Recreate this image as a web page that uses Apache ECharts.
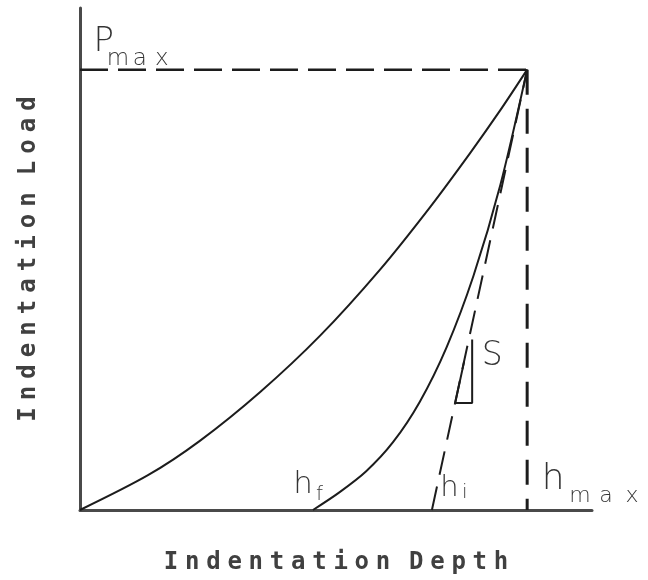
<!DOCTYPE html>
<html>
<head>
<meta charset="utf-8">
<script src="https://cdn.jsdelivr.net/npm/echarts@6/dist/echarts.min.js"></script>
<style>
  html, body { margin: 0; padding: 0; background: #fff; }
  #chart { width: 648px; height: 580px; }
</style>
</head>
<body>
<div id="chart"></div>
<script>
// Load–depth curve of an indentation test, in relative units (Pmax = 100, hmax = 100)
const P_MAX = 100;
const H_MAX = 100;
const H_F = 52.1;   // residual depth after unloading
const H_I = 78.7;   // depth where the unloading tangent meets the axis

// loading branch
const loadDepth = [0, 15.2, 26.8, 40.3, 53.7, 67.1, 78.3, 87.2, 94.0, 100];
const loadForce = [0, 7.9, 15.7, 26.8, 39.6, 54.6, 68.8, 81.0, 90.8, 100];

// unloading branch
const unloadDepth = [H_F, 58, 64, 70, 76, 82, 88, 94, 100];
const unloadForce = [0, 4.0, 8.8, 15.4, 24.6, 37.0, 53.2, 73.8, 100];

// small slope triangle marking the contact stiffness S
const triDepth = [85.9, 83.9, 87.7, 87.7];
const triForce = [33.7, 24.3, 24.3, 38.7];

// symbol labels: main letter and its subscript
const mainText  = ['P', 'h', 'h', 'h', 'S'];
const mainDepth = [5.3, 105.8, 49.9, 82.6, 92.2];
const mainForce = [106.3, 7.0, 5.8, 4.9, 34.9];
const mainSize  = [34, 36, 31, 29, 33];

const subText  = ['max', 'max', 'f', 'i'];
const subDepth = [6.0, 108.9, 52.2, 84.7];
const subForce = [102.4, 3.1, 3.5, 3.8];
const subSize  = [23, 22, 20, 20];
const subStep  = [22, 26, 12, 12];

const xTitle = 'Indentation Depth';
const yTitle = 'Indentation Load';

const zip = (a, b) => a.map((v, i) => [v, b[i]]);
const INK = '#1c1c1c';
const LABEL_INK = '#000';
const LABEL_FONT = 'DejaVu Sans';
const TITLE_FONT = 'DejaVu Sans Mono';

// letters laid out on a fixed pitch
function spaced(text) {
  return text.split('').map(c => c === ' ' ? '{g| }' : '{c|' + c + '}').join('');
}
function titleRich(step, gap) {
  const base = { fontFamily: TITLE_FONT, fontSize: 24, fontWeight: 'bold', color: '#404040', align: 'center' };
  return { c: Object.assign({ width: step }, base), g: Object.assign({ width: gap }, base) };
}

const chart = echarts.init(document.getElementById('chart'), null, { renderer: 'canvas' });

const lineBase = { type: 'line', showSymbol: false, symbol: 'none', silent: true, z: 3 };

chart.setOption({
  animation: false,
  backgroundColor: '#fff',
  grid: { left: 80, right: 56, top: 8, bottom: 65, containLabel: false },
  xAxis: {
    type: 'value', min: 0, max: 114.5,
    axisLine: { show: true, onZero: false, lineStyle: { color: '#4a4a4a', width: 3 } },
    axisTick: { show: false }, axisLabel: { show: false }, splitLine: { show: false },
    name: spaced(xTitle), nameLocation: 'middle', nameGap: 41,
    nameTextStyle: { rich: titleRich(21.2, 12) }
  },
  yAxis: {
    type: 'value', min: 0, max: 114,
    axisLine: { show: true, onZero: false, lineStyle: { color: '#4a4a4a', width: 3 } },
    axisTick: { show: false }, axisLabel: { show: false }, splitLine: { show: false },
    name: spaced(yTitle), nameLocation: 'middle', nameGap: 39, nameRotate: 90,
    nameTextStyle: { rich: titleRich(21.5, 10) }
  },
  series: [
    Object.assign({}, lineBase, {
      name: 'loading', smooth: 0.3,
      data: zip(loadDepth, loadForce),
      lineStyle: { color: INK, width: 2 }
    }),
    Object.assign({}, lineBase, {
      name: 'unloading', smooth: 0.3,
      data: zip(unloadDepth, unloadForce),
      lineStyle: { color: INK, width: 2 }
    }),
    Object.assign({}, lineBase, {
      name: 'tangent',
      data: [[H_I, 0], [H_MAX, P_MAX]],
      lineStyle: { color: INK, width: 2, type: [24, 12] }
    }),
    Object.assign({}, lineBase, {
      name: 'Pmax',
      data: [[0, P_MAX], [H_MAX, P_MAX]],
      lineStyle: { color: INK, width: 2.5, type: [28, 10] }
    }),
    Object.assign({}, lineBase, {
      name: 'hmax',
      data: [[H_MAX, P_MAX], [H_MAX, 0]],
      lineStyle: { color: INK, width: 3, type: [25, 14] }
    }),
    Object.assign({}, lineBase, {
      name: 'S',
      data: zip(triDepth, triForce),
      lineStyle: { color: INK, width: 2 }
    }),
    {
      type: 'scatter', name: 'symbols', silent: true, symbolSize: 0, z: 5,
      data: mainText.map((t, i) => ({
        value: [mainDepth[i], mainForce[i]],
        label: {
          show: true, position: [0, 0], align: 'center', verticalAlign: 'middle',
          formatter: t, fontFamily: LABEL_FONT, fontWeight: 200,
          fontSize: mainSize[i], color: LABEL_INK
        }
      }))
    },
    {
      type: 'scatter', name: 'subscripts', silent: true, symbolSize: 0, z: 5,
      data: subText.map((t, i) => ({
        value: [subDepth[i], subForce[i]],
        label: {
          show: true, position: [0, 0], align: 'left', verticalAlign: 'middle',
          formatter: t.split('').map(c => '{c|' + c + '}').join(''),
          rich: { c: { width: subStep[i], align: 'center', fontFamily: LABEL_FONT, fontWeight: 200, fontSize: subSize[i], color: LABEL_INK } }
        }
      }))
    }
  ]
});
</script>
</body>
</html>
